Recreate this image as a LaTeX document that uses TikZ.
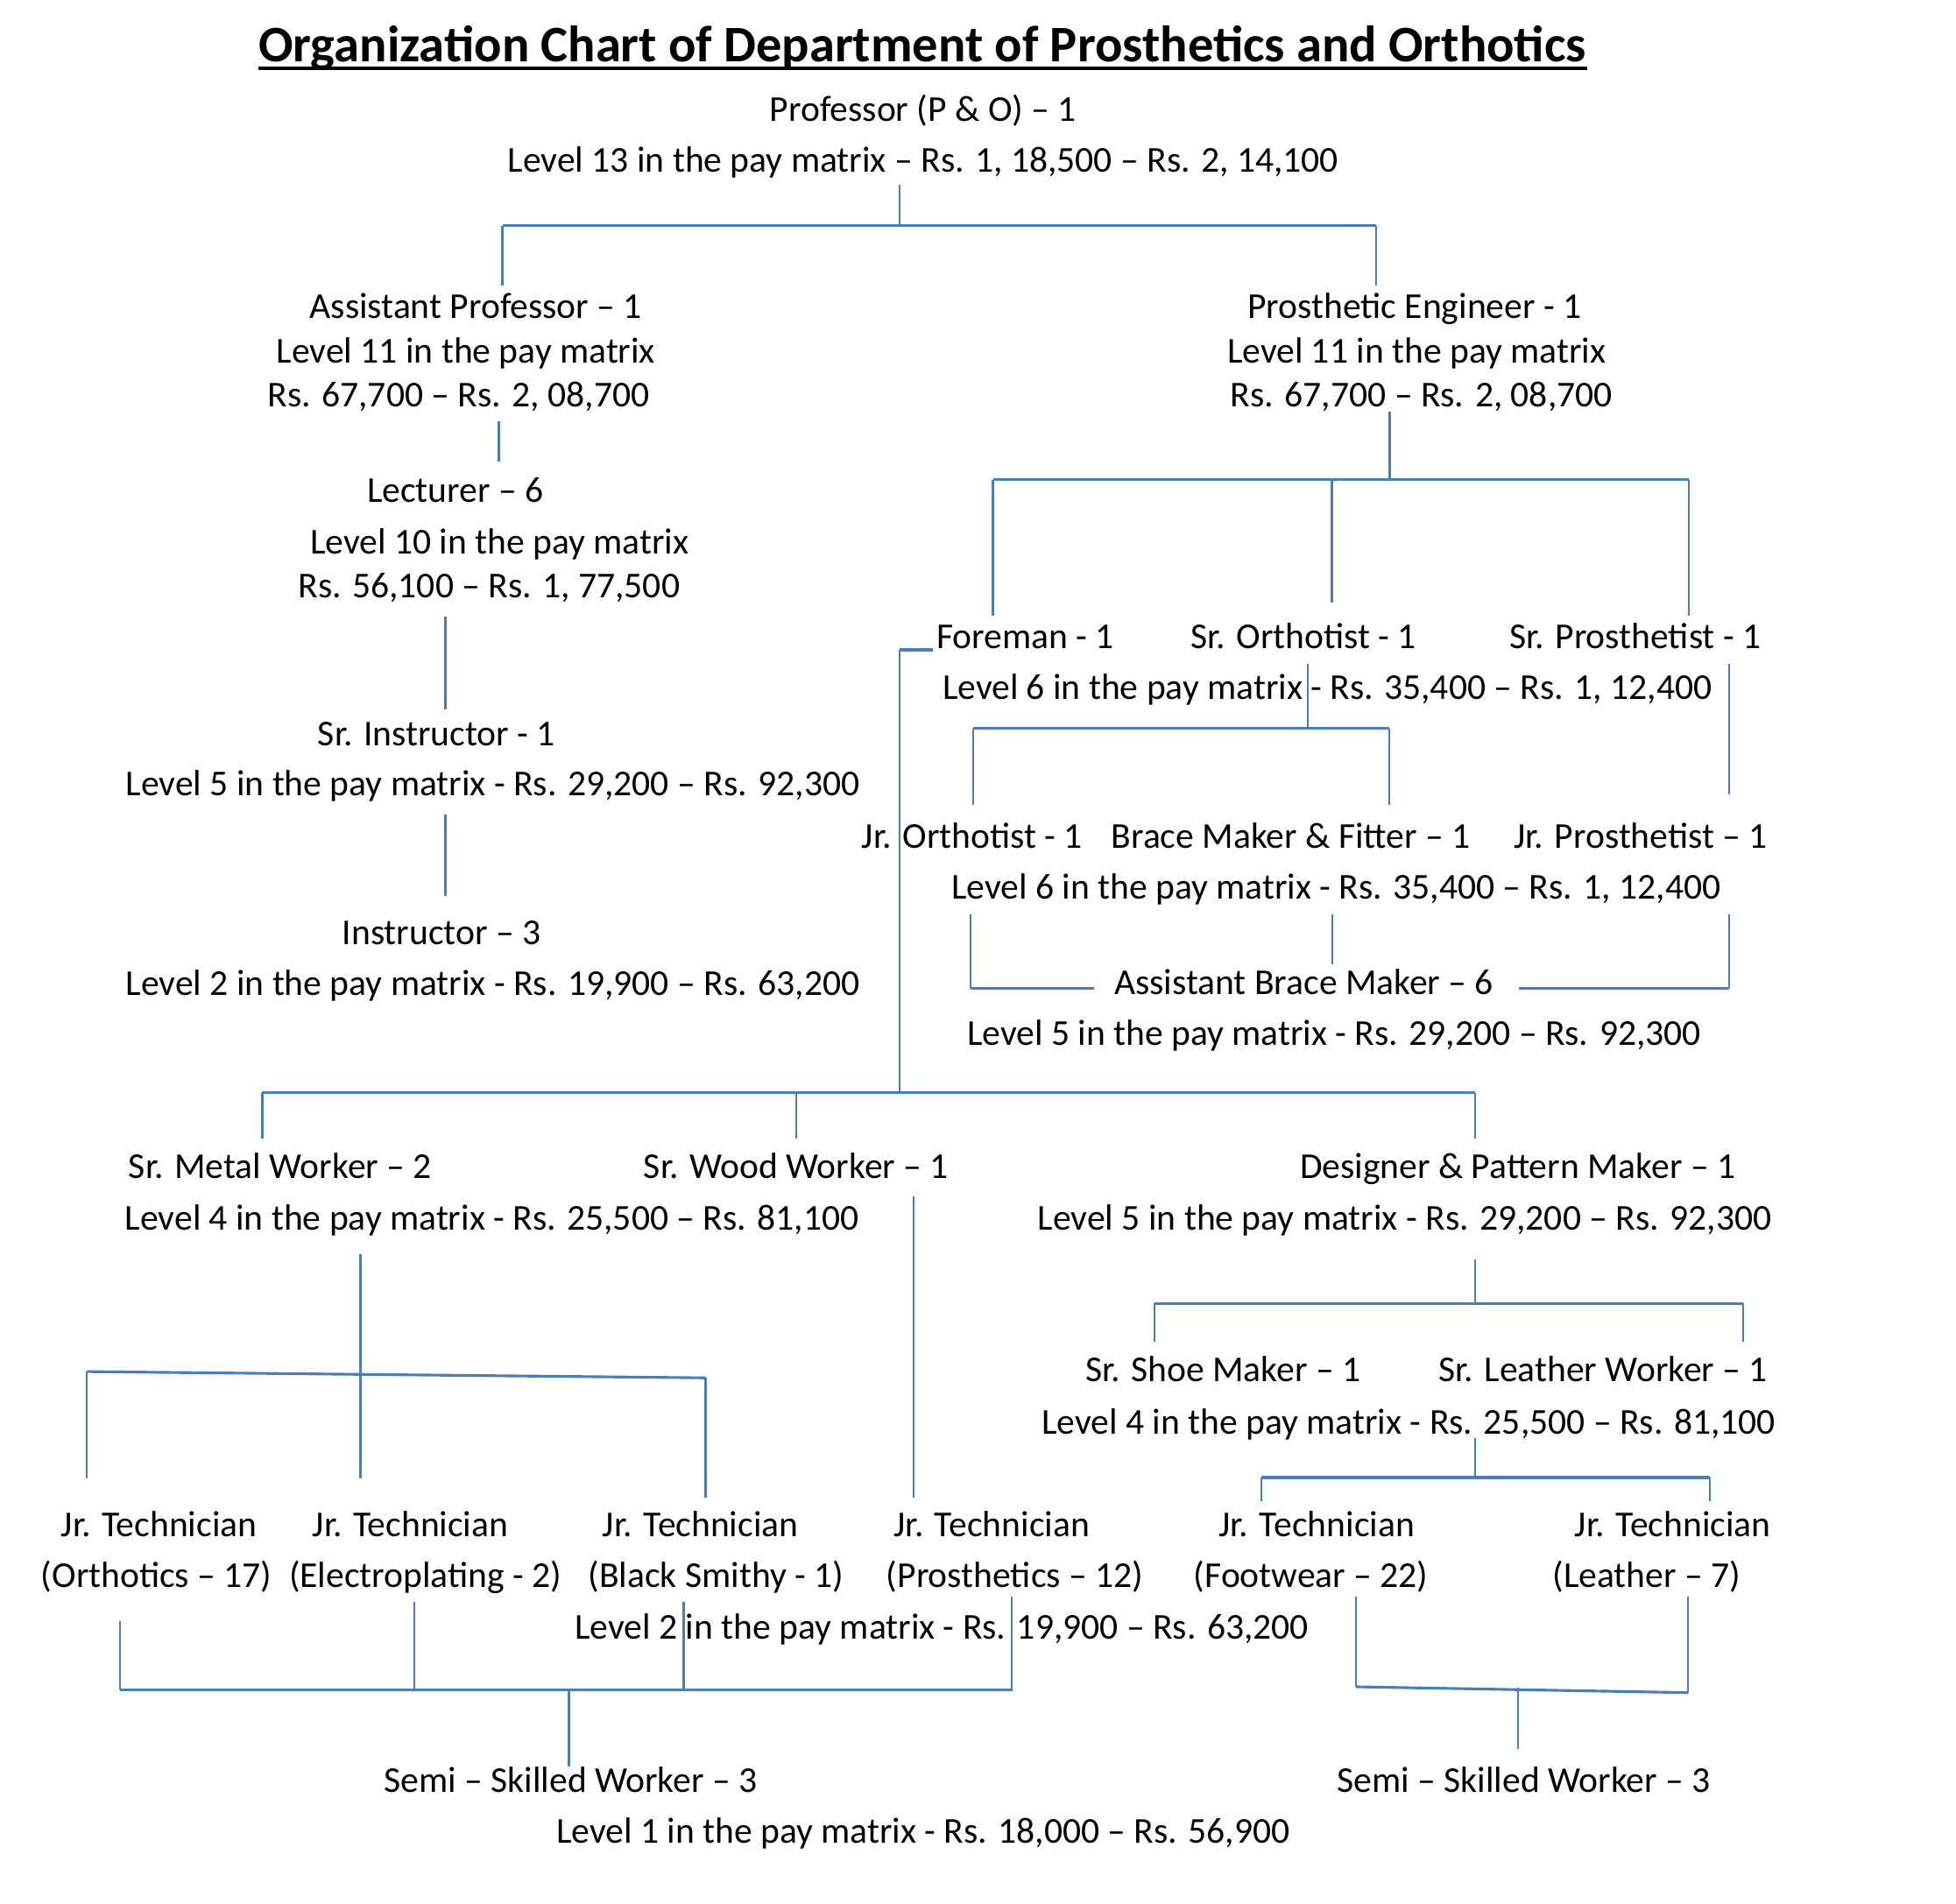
\documentclass[tikz,border=0pt]{standalone}
\usepackage{fontspec}
\setmainfont{Carlito}
\definecolor{lineblue}{RGB}{74,126,187}
\begin{document}
\begin{tikzpicture}[x=0.5pt,y=-0.5pt,
  txt/.style={anchor=base, inner sep=0pt, font=\fontsize{14.6}{17}\selectfont},
  titletxt/.style={anchor=base, inner sep=0pt, font=\fontsize{20.55}{24}\selectfont\bfseries},
  ln/.style={draw=lineblue, line width=0.8pt},
  bar/.style={draw=lineblue, line width=1.1pt}]
\useasboundingbox (0,0) rectangle (1568,1526);
\fill[white] (0,0) rectangle (1568,1526);

% title
\node[titletxt] (title) at (739.5,49.4) {Organization Chart of Department of Prosthetics and Orthotics};
\draw[black, line width=1.35pt] ([yshift=-2.6pt]title.base west) -- ([yshift=-2.6pt]title.base east);

% text nodes
\node[txt] (prof) at (740,97) {Professor (P \& O) – 1};
\node[txt] (prof2) at (740,138) {Level 13 in the pay matrix – Rs. 1, 18,500 – Rs. 2, 14,100};

\node[txt] (ap) at (381.5,255) {Assistant Professor – 1};
\node[txt] (ap2) at (373.5,291) {Level 11 in the pay matrix};
\node[txt] (ap3) at (367.5,326) {Rs. 67,700 – Rs. 2, 08,700};

\node[txt] (lect) at (365,403) {Lecturer – 6};
\node[txt] (lect2) at (400.5,444) {Level 10 in the pay matrix};
\node[txt] (lect3) at (392,479) {Rs. 56,100 – Rs. 1, 77,500};

\node[txt] (sri) at (350,598) {Sr. Instructor - 1};
\node[txt] (sri2) at (395,638) {Level 5 in the pay matrix - Rs. 29,200 – Rs. 92,300};

\node[txt] (ins) at (354,757) {Instructor – 3};
\node[txt] (ins2) at (395,798) {Level 2 in the pay matrix - Rs. 19,900 – Rs. 63,200};

\node[txt] (pe) at (1134,255) {Prosthetic Engineer - 1};
\node[txt] (pe2) at (1135.5,291) {Level 11 in the pay matrix};
\node[txt] (pe3) at (1139.5,326) {Rs. 67,700 – Rs. 2, 08,700};

\node[txt] (fore) at (822,520) {Foreman - 1};
\node[txt] (sro) at (1044.8,520) {Sr. Orthotist - 1};
\node[txt] (srp) at (1310.8,520) {Sr. Prosthetist - 1};
\node[txt] (lv6a) at (1063.9,561) {Level 6 in the pay matrix - Rs. 35,400 – Rs. 1, 12,400};

\node[txt] (jor) at (779.3,680) {Jr. Orthotist - 1};
\node[txt] (bmf) at (1034.7,680) {Brace Maker \& Fitter – 1};
\node[txt] (jrp) at (1315.2,680) {Jr. Prosthetist – 1};
\node[txt] (lv6b) at (1071,721) {Level 6 in the pay matrix - Rs. 35,400 – Rs. 1, 12,400};
\node[txt] (abm) at (1045.3,797) {Assistant Brace Maker – 6};
\node[txt] (lv5b) at (1069.5,838) {Level 5 in the pay matrix - Rs. 29,200 – Rs. 92,300};

\node[txt] (smw) at (224.6,945) {Sr. Metal Worker – 2};
\node[txt] (sww) at (638.2,945) {Sr. Wood Worker – 1};
\node[txt] (dpm) at (1216.6,945) {Designer \& Pattern Maker – 1};
\node[txt] (lv4a) at (394.4,986) {Level 4 in the pay matrix - Rs. 25,500 – Rs. 81,100};
\node[txt] (lv5c) at (1126,986) {Level 5 in the pay matrix - Rs. 29,200 – Rs. 92,300};

\node[txt] (ssm) at (980.4,1108) {Sr. Shoe Maker – 1};
\node[txt] (slw) at (1285.1,1108) {Sr. Leather Worker – 1};
\node[txt] (lv4b) at (1129.2,1150) {Level 4 in the pay matrix - Rs. 25,500 – Rs. 81,100};

\node[txt] (jt1) at (127.5,1232) {Jr. Technician};
\node[txt] (jt1b) at (125.5,1273) {(Orthotics – 17)};
\node[txt] (jt2) at (329,1232) {Jr. Technician};
\node[txt] (jt2b) at (341,1273) {(Electroplating - 2)};
\node[txt] (jt3) at (561.5,1232) {Jr. Technician};
\node[txt] (jt3b) at (574,1273) {(Black Smithy - 1)};
\node[txt] (jt4) at (795,1232) {Jr. Technician};
\node[txt] (jt4b) at (813.5,1273) {(Prosthetics – 12)};
\node[txt] (jt5) at (1055.5,1232) {Jr. Technician};
\node[txt] (jt5b) at (1051,1273) {(Footwear – 22)};
\node[txt] (jt6) at (1341,1232) {Jr. Technician};
\node[txt] (jt6b) at (1320,1273) {(Leather – 7)};
\node[txt] (lv2b) at (755,1314) {Level 2 in the pay matrix - Rs. 19,900 – Rs. 63,200};

\node[txt] (ssw1) at (457.5,1437) {Semi – Skilled Worker – 3};
\node[txt] (ssw2) at (1221.5,1437) {Semi – Skilled Worker – 3};
\node[txt] (lv1) at (740,1478) {Level 1 in the pay matrix - Rs. 18,000 – Rs. 56,900};

% connector coordinates
\coordinate (c01) at (721,148);   \coordinate (c02) at (721,181);
\coordinate (c03) at (402.8,181); \coordinate (c04) at (1103,181);
\coordinate (c05) at (402.8,228.7); \coordinate (c06) at (1103,228.7);
\coordinate (c07) at (399.8,338); \coordinate (c08) at (399.8,370.3);
\coordinate (c09) at (357,494);   \coordinate (c10) at (357,569);
\coordinate (c11) at (357,653);   \coordinate (c12) at (357,718.6);
\coordinate (c13) at (1114,330);  \coordinate (c14) at (1114,384.6);
\coordinate (c15) at (796,384.6); \coordinate (c16) at (1353.6,384.6);
\coordinate (c17) at (796,493.6); \coordinate (c18) at (1067.6,384.6);
\coordinate (c19) at (1067.6,483.3); \coordinate (c20) at (1353.6,493.6);
\coordinate (c21) at (747.9,521); \coordinate (c22) at (721,521);
\coordinate (c23) at (721,876);
\coordinate (c24) at (1048.4,532); \coordinate (c25) at (1048.4,584);
\coordinate (c26) at (780,584);   \coordinate (c27) at (1113.7,584);
\coordinate (c28) at (780,645.5); \coordinate (c29) at (1113.7,645.5);
\coordinate (c30) at (1386,532);  \coordinate (c31) at (1386,637);
\coordinate (c32) at (778,733);   \coordinate (c33) at (778,792.2);
\coordinate (c34) at (876.8,792.2);
\coordinate (c35) at (1067.8,733); \coordinate (c36) at (1067.8,773);
\coordinate (c37) at (1386,733);  \coordinate (c38) at (1386,792.2);
\coordinate (c39) at (1217.7,792.2);
\coordinate (c40) at (210.3,876); \coordinate (c41) at (1182.3,876);
\coordinate (c42) at (210.3,913); \coordinate (c43) at (638.2,876);
\coordinate (c44) at (638.2,913); \coordinate (c45) at (1182.3,913);
\coordinate (c46) at (289,1005.6); \coordinate (c47) at (289,1185.2);
\coordinate (c48) at (69.4,1099.7); \coordinate (c49) at (565.7,1104.7);
\coordinate (c50) at (69.4,1185.2); \coordinate (c51) at (565.7,1200.8);
\coordinate (c52) at (732.6,959.4); \coordinate (c53) at (732.6,1200.8);
\coordinate (c54) at (1182.3,1010); \coordinate (c55) at (1182.3,1045);
\coordinate (c56) at (925.4,1045); \coordinate (c57) at (1397.2,1045);
\coordinate (c58) at (925.4,1075.8); \coordinate (c59) at (1397.2,1075.8);
\coordinate (c60) at (1182.3,1153); \coordinate (c61) at (1182.3,1184.6);
\coordinate (c62) at (1011,1184.6); \coordinate (c63) at (1370.7,1184.6);
\coordinate (c64) at (1011,1203.2); \coordinate (c65) at (1370.7,1203.2);
\coordinate (c66) at (96,1299.5);  \coordinate (c67) at (96,1354.6);
\coordinate (c68) at (332,1284.3); \coordinate (c69) at (332,1356);
\coordinate (c70) at (548,1284.3); \coordinate (c71) at (548,1356);
\coordinate (c72) at (811,1279.9); \coordinate (c73) at (811,1356);
\coordinate (c74) at (811,1354.6);
\coordinate (c75) at (456,1354.6); \coordinate (c76) at (456,1416);
\coordinate (c77) at (1087,1279.9); \coordinate (c78) at (1087,1352.4);
\coordinate (c79) at (1353,1279.9); \coordinate (c80) at (1353,1357.1);
\coordinate (c81) at (1217,1353); \coordinate (c82) at (1217,1402.5);

% connectors
\draw[ln] (c01) -- (c02);
\draw[bar] (c03) -- (c04);
\draw[ln] (c03) -- (c05);
\draw[ln] (c04) -- (c06);
\draw[ln] (c07) -- (c08);
\draw[ln] (c09) -- (c10);
\draw[ln] (c11) -- (c12);
\draw[ln] (c13) -- (c14);
\draw[bar] (c15) -- (c16);
\draw[ln] (c15) -- (c17);
\draw[ln] (c18) -- (c19);
\draw[ln] (c16) -- (c20);
\draw[bar] (c21) -- (c22);
\draw[ln] (c22) -- (c23);
\draw[ln] (c24) -- (c25);
\draw[bar] (c26) -- (c27);
\draw[ln] (c26) -- (c28);
\draw[ln] (c27) -- (c29);
\draw[ln] (c30) -- (c31);
\draw[ln] (c32) -- (c33);
\draw[bar] (c33) -- (c34);
\draw[ln] (c35) -- (c36);
\draw[ln] (c37) -- (c38);
\draw[bar] (c39) -- (c38);
\draw[bar] (c40) -- (c41);
\draw[ln] (c40) -- (c42);
\draw[ln] (c43) -- (c44);
\draw[ln] (c41) -- (c45);
\draw[ln] (c46) -- (c47);
\draw[bar] (c48) -- (c49);
\draw[ln] (c48) -- (c50);
\draw[ln] (c49) -- (c51);
\draw[ln] (c52) -- (c53);
\draw[ln] (c54) -- (c55);
\draw[bar] (c56) -- (c57);
\draw[ln] (c56) -- (c58);
\draw[ln] (c57) -- (c59);
\draw[ln] (c60) -- (c61);
\draw[bar] (c62) -- (c63);
\draw[ln] (c62) -- (c64);
\draw[ln] (c63) -- (c65);
\draw[ln] (c66) -- (c67);
\draw[ln] (c68) -- (c69);
\draw[ln] (c70) -- (c71);
\draw[ln] (c72) -- (c73);
\draw[bar] (c67) -- (c74);
\draw[ln] (c75) -- (c76);
\draw[ln] (c77) -- (c78);
\draw[ln] (c79) -- (c80);
\draw[bar] (c78) -- (c80);
\draw[ln] (c81) -- (c82);
\end{tikzpicture}
\end{document}
